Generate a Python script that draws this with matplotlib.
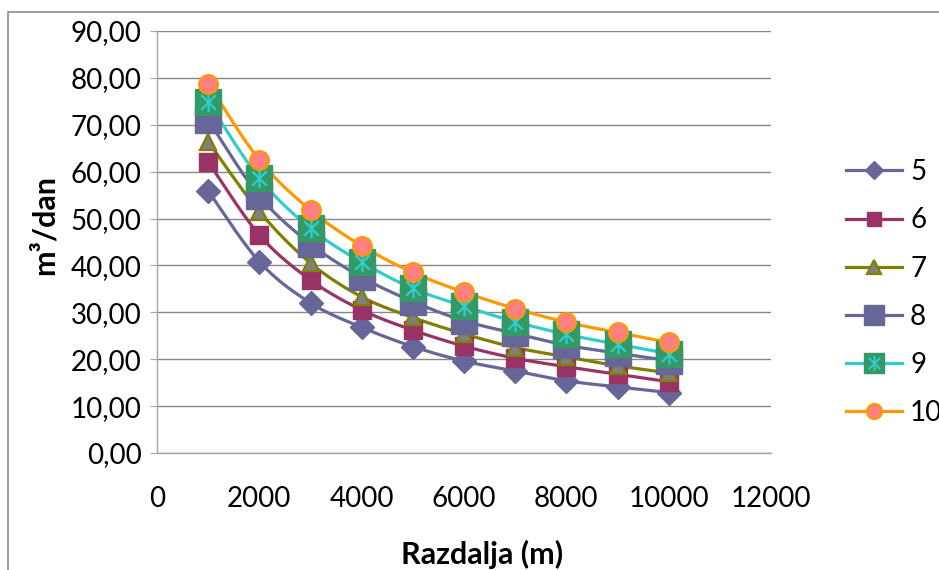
import matplotlib
matplotlib.use('Agg')
from matplotlib import pyplot as plt
from matplotlib.lines import Line2D
from matplotlib.patches import Rectangle
from matplotlib.path import Path
import numpy as np

# data
distance = [1000, 2000, 3000, 4000, 5000, 6000, 7000, 8000, 9000, 10000]
series_names = ['5', '6', '7', '8', '9', '10']
s5 = [55.9, 40.8, 32.0, 26.8, 22.7, 19.6, 17.5, 15.4, 14.1, 12.9]
s6 = [62.1, 46.5, 36.9, 30.5, 26.2, 22.8, 20.2, 18.4, 16.8, 15.2]
s7 = [66.4, 51.5, 40.5, 33.3, 28.9, 25.4, 22.5, 20.5, 18.6, 17.1]
s8 = [71.0, 54.8, 44.6, 37.5, 32.3, 28.2, 25.5, 23.0, 21.3, 19.7]
s9 = [74.9, 58.6, 47.9, 40.7, 35.1, 31.3, 28.0, 25.3, 23.2, 21.2]
s10 = [78.8, 62.5, 51.8, 44.2, 38.5, 34.3, 30.8, 27.9, 25.7, 23.6]
y_ticks = [0, 10, 20, 30, 40, 50, 60, 70, 80, 90]
x_ticks = [0, 2000, 4000, 6000, 8000, 10000, 12000]

FONT = 'Lato'
FS = 20
FS_LABEL = 22

# six-armed asterisk used on top of the green squares
star = Path([(0, -1), (0, 1), (-0.75, -0.75), (0.75, 0.75), (-0.75, 0.75), (0.75, -0.75)],
            [Path.MOVETO, Path.LINETO, Path.MOVETO, Path.LINETO, Path.MOVETO, Path.LINETO])

styles = [
    # line colour, marker, size, face, edge, edge width
    ('#666699', 'D', 12, '#666699', '#666699', 1),
    ('#993366', 's', 13, '#993366', '#993366', 1),
    ('#808000', '^', 12, '#808080', '#808000', 1.6),
    ('#666699', 's', 18.5, '#666699', '#666699', 1),
    ('#33CCCC', 's', 18.5, '#339966', '#339966', 1),
    ('#FF9900', 'o', 13.5, '#FF8080', '#FF9900', 1.6),
]


def smooth(x, y, n=30):
    # Excel style smoothed line: Catmull-Rom segments drawn as cubic Bezier
    x = np.asarray(x, float)
    y = np.asarray(y, float)
    px = np.concatenate([[x[0]], x, [x[-1]]])
    py = np.concatenate([[y[0]], y, [y[-1]]])
    t = np.linspace(0, 1, n)[:, None]
    xs, ys = [], []
    for i in range(1, len(px) - 2):
        p0 = np.array([px[i], py[i]])
        p3 = np.array([px[i + 1], py[i + 1]])
        c1 = p0 + (p3 - np.array([px[i - 1], py[i - 1]])) / 6
        c2 = p3 - (np.array([px[i + 2], py[i + 2]]) - p0) / 6
        b = ((1 - t) ** 3) * p0 + 3 * ((1 - t) ** 2) * t * c1 + 3 * (1 - t) * t ** 2 * c2 + t ** 3 * p3
        xs.append(b[:, 0])
        ys.append(b[:, 1])
    return np.concatenate(xs), np.concatenate(ys)


fig = plt.figure(figsize=(9.39, 5.70), dpi=100)
ax = fig.add_axes([157 / 939, 117 / 570, 614 / 939, 422 / 570])

all_series = [s5, s6, s7, s8, s9, s10]
for vals, st in zip(all_series, styles):
    sx, sy = smooth(distance, vals)
    ax.plot(sx, sy, color=st[0], lw=2.3, zorder=3, solid_capstyle='round')

handles = []
for name, vals, st in zip(series_names, all_series, styles):
    ax.plot(distance, vals, linestyle='none', marker=st[1], ms=st[2],
            mfc=st[3], mec=st[4], mew=st[5], zorder=4)
    if name == '9':
        ax.plot(distance, vals, linestyle='none', marker=star, ms=14,
                mec='#33CCCC', mew=1.6, zorder=4)
    handles.append(Line2D([], [], color=st[0], lw=2.3, marker=st[1], ms=st[2] * 0.8,
                          mfc=st[3], mec=st[4], mew=st[5]))

# asterisk on the legend entry of series 9
handles[4] = (handles[4], Line2D([], [], linestyle='none', marker=star, ms=11,
                                 mec='#33CCCC', mew=1.4))

ax.set_xlim(0, 12000)
ax.set_ylim(0, 90)
ax.set_xticks(x_ticks)
ax.set_yticks(y_ticks)
ax.set_yticklabels(['{:.2f}'.format(v).replace('.', ',') for v in y_ticks])
ax.set_xticklabels([str(v) for v in x_ticks])
ax.tick_params(axis='y', length=5, color='#a6a6a6', pad=6)
ax.tick_params(axis='x', length=0, pad=24)
for lab in ax.get_xticklabels() + ax.get_yticklabels():
    lab.set_fontfamily(FONT)
    lab.set_fontsize(FS)
    lab.set_color('black')

ax.grid(axis='y', color='#868686', lw=1)
ax.set_axisbelow(True)
for side in ['top', 'right']:
    ax.spines[side].set_visible(False)
for side in ['left', 'bottom']:
    ax.spines[side].set_color('#a6a6a6')
    ax.spines[side].set_linewidth(1)

ax.set_ylabel('m³/dan', fontfamily=FONT, fontsize=FS_LABEL, fontweight='bold')
ax.yaxis.set_label_coords(-0.161, 0.54)
ax.set_xlabel('Razdalja (m)', fontfamily=FONT, fontsize=FS_LABEL, fontweight='bold')
ax.xaxis.set_label_coords(0.529, -0.205)

leg = ax.legend(handles, series_names, loc='upper left',
                bbox_to_anchor=(835 / 939, (570 - 148) / 570), bbox_transform=fig.transFigure,
                frameon=False, prop={'family': FONT, 'size': FS},
                handlelength=2.0, handletextpad=0.3, labelspacing=0.8, borderaxespad=0)

# chart area border (runs off the right and bottom of the picture)
fig.patches.append(Rectangle((8 / 939, -0.5), 2, 0.5 + (570 - 12) / 570, transform=fig.transFigure,
                             fill=False, ec='#8c8c8c', lw=1.2))

fig.savefig('out.png', dpi=100)
